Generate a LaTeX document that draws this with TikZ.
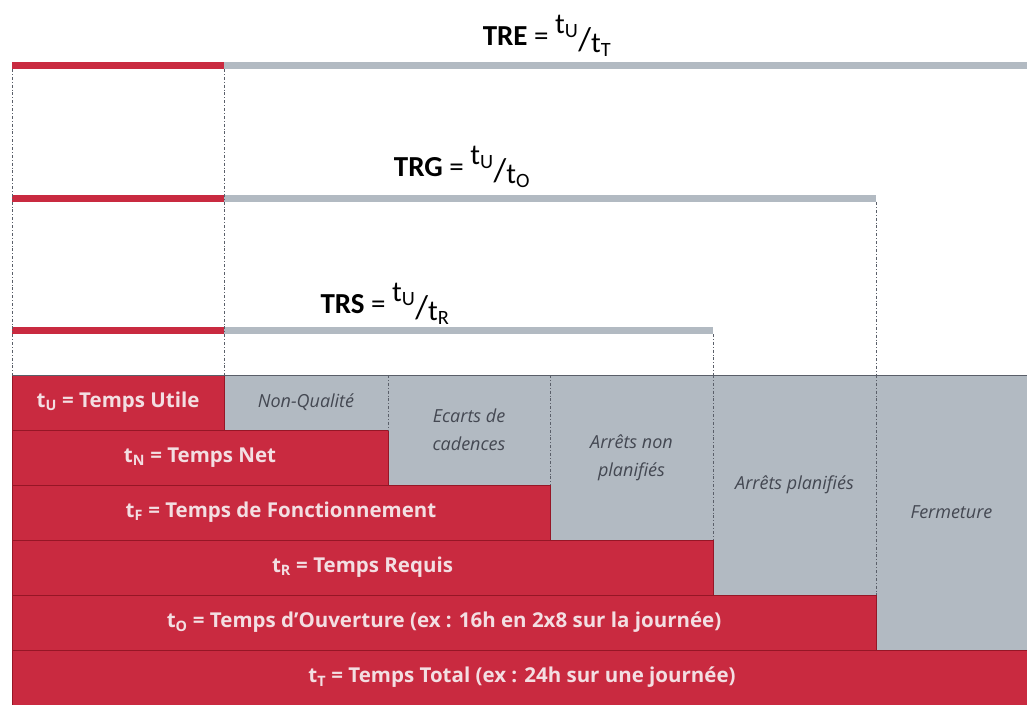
\documentclass[tikz,border=0pt]{standalone}
\usepackage{fontspec}
\setmainfont{Carlito}
\newfontfamily\rowfont{Open Sans}

\definecolor{trsred}{RGB}{201,42,64}
\definecolor{trsredline}{RGB}{150,22,38}
\definecolor{trsgray}{RGB}{178,186,194}
\definecolor{trsguide}{RGB}{90,95,105}
\definecolor{trstext}{RGB}{243,222,226}
\definecolor{trsgraytext}{RGB}{68,72,82}

\newcommand{\tsb}[1]{t\textsubscript{#1}}
\newcommand{\ratiot}[2]{\raisebox{12pt}{\tsb{#1}}\raisebox{-5pt}{\fontsize{33}{33}\selectfont/}\raisebox{-7pt}{\tsb{#2}}}

\begin{document}
\begin{tikzpicture}[x=1pt, y=-1pt,
	cell/.style={anchor=north west, inner sep=0pt, outer sep=0pt},
	redcell/.style={cell, fill=trsred, draw=trsredline, line width=0.7pt, minimum height=55pt, text=trstext, font=\fontsize{20.5}{22}\rowfont\bfseries},
	graycell/.style={cell, fill=trsgray, text=trsgraytext, font=\fontsize{18}{28}\rowfont\itshape, align=center},
	guide/.style={trsguide, line width=0.5pt, dash pattern=on 3pt off 2pt on 0.8pt off 2pt},
	ratio/.style={font=\fontsize{29}{29}\selectfont, inner sep=0pt}
	]
	\useasboundingbox (0,0) rectangle (1027,704);
	\def\tabTop{375} % top of the table
	\def\barW{7} % thickness of the bars
	
	% Losses (gray)
	\node[graycell, minimum width=164pt, minimum height=55pt] (nq) at (224,\tabTop) {Non-Qualité};
	\node[graycell, minimum width=162pt, minimum height=110pt] (ec) at (388,\tabTop) {Ecarts de\\cadences};
	\node[graycell, minimum width=163pt, minimum height=165pt] (anp) at (550,\tabTop) {Arrêts non\\planifiés};
	\node[graycell, minimum width=163pt, minimum height=220pt] (ap) at (713,\tabTop) {Arrêts planifiés};
	\node[graycell, minimum width=151pt, minimum height=275pt] (fe) at (876,\tabTop) {Fermeture};
	
	% Times (red)
	\node[redcell, minimum width=212pt] (tu) at (12,\tabTop) {\tsb{U} = Temps Utile};
	\node[redcell, minimum width=376pt] (tn) at (12,430) {\tsb{N} = Temps Net};
	\node[redcell, minimum width=538pt] (tf) at (12,485) {\tsb{F} = Temps de Fonctionnement};
	\node[redcell, minimum width=701pt] (tr) at (12,540) {\tsb{R} = Temps Requis};
	\node[redcell, minimum width=864pt] (to) at (12,595) {\tsb{O} = Temps d’Ouverture (ex : 16h en 2x8 sur la journée)};
	\node[redcell, minimum width=1020pt] (tt) at (12,650) {\tsb{T} = Temps Total (ex : 24h sur une journée)};
	
	% Ratios
	\node[ratio] (tre) at (547,36) {\textbf{TRE} = \ratiot{U}{T}};
	\node[ratio] (trg) at (462,167) {\textbf{TRG} = \ratiot{U}{O}};
	\node[ratio] (trs) at (385,304) {\textbf{TRS} = \ratiot{U}{R}};
	
	\fill[trsred] (12,62) rectangle (224,62+\barW);
	\fill[trsgray] (224,62) rectangle (1027,62+\barW);
	\fill[trsred] (12,195) rectangle (224,195+\barW);
	\fill[trsgray] (224,195) rectangle (876,195+\barW);
	\fill[trsred] (12,327) rectangle (224,327+\barW);
	\fill[trsgray] (224,327) rectangle (713,327+\barW);
	
	% Guides
	\draw[guide] (12,69) -- (tu.north west);
	\draw[guide] (224,69) -- (nq.north west);
	\draw[guide] (876,202) -- (fe.north west);
	\draw[guide] (713,334) -- (ap.north west);
	\draw[guide] (ec.north west) -- (ec.south west |- nq.south west);
	\draw[guide] (anp.north west) -- (anp.north west |- ec.south west);
	\draw[guide] (ap.north west) -- (ap.north west |- anp.south west);
	\draw[guide] (fe.north west) -- (fe.north west |- ap.south west);
	\draw[trsguide, line width=0.8pt] (tu.north west) -- (fe.north east);
\end{tikzpicture}
\end{document}
